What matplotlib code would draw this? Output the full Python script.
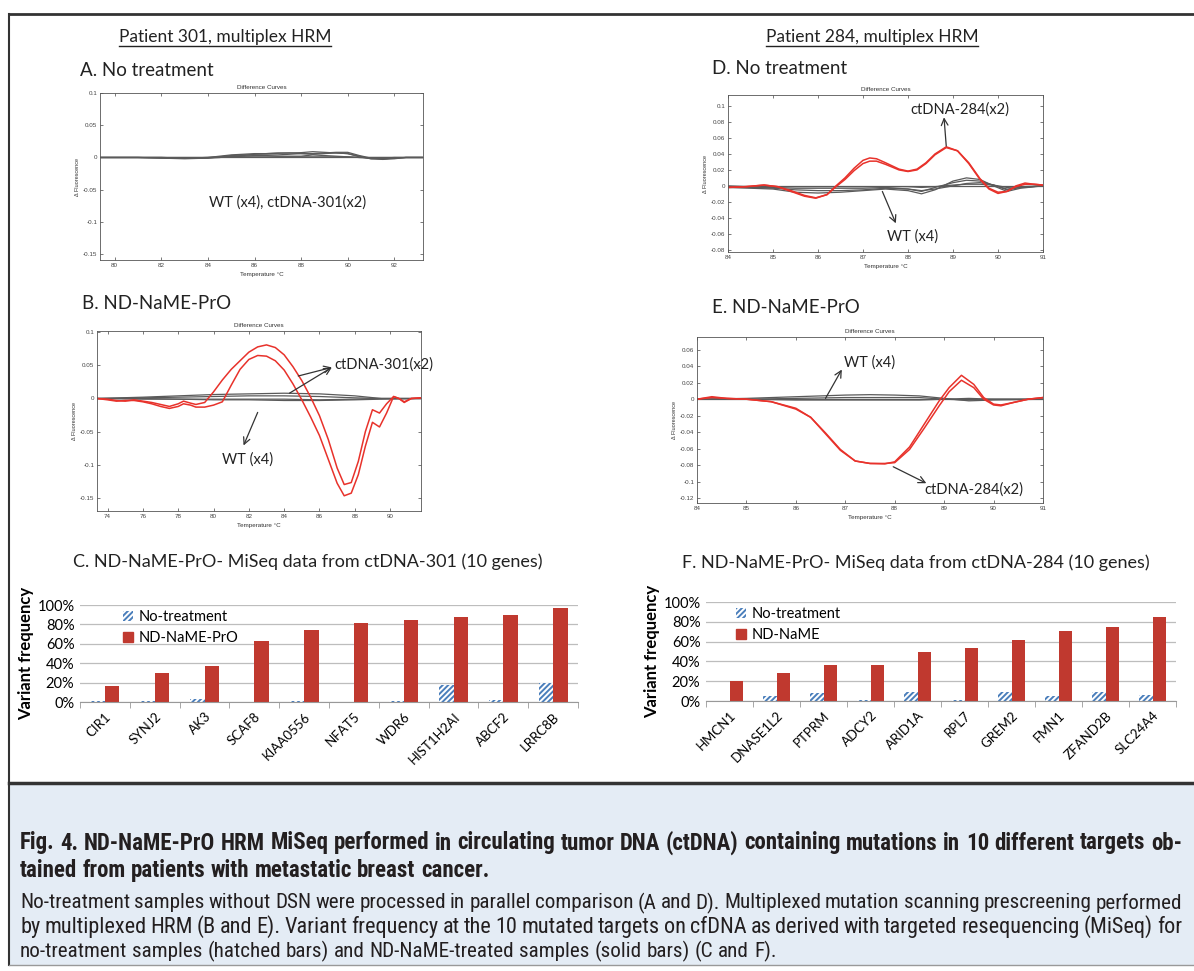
import numpy as np
import matplotlib
matplotlib.use('Agg')
import matplotlib.pyplot as plt
from matplotlib import font_manager
from matplotlib.patches import Rectangle, Patch
from matplotlib.lines import Line2D
from matplotlib.ticker import PercentFormatter

# ---- HRM difference curves ----
# Panel A: patient 301, no treatment (WT x4 + ctDNA x2, all grey)
a_temp = [79.4, 80, 81, 82, 83, 84, 84.5, 85, 85.5, 86, 86.5, 87, 87.5, 88,
          88.5, 89, 89.5, 90, 90.5, 91, 91.5, 92, 92.5, 93.2]
a_curves = [
    [0, 0, 0, 0, -0.001, 0, 0.002, 0.004, 0.005, 0.006, 0.006, 0.0065, 0.007, 0.0075,
     0.009, 0.008, 0.007, 0.006, 0.001, -0.002, -0.003, -0.002, 0, 0],
    [0, 0, 0, -0.001, -0.002, -0.001, 0.001, 0.003, 0.004, 0.004, 0.004, 0.004, 0.005, 0.006,
     0.006, 0.007, 0.008, 0.008, 0.003, -0.001, -0.002, -0.001, 0, 0],
    [0, 0, 0, 0, -0.001, 0, 0, 0.001, 0.002, 0.003, 0.003, 0.002, 0.002, 0.002,
     0.004, 0.003, 0.002, 0.001, 0, -0.001, -0.001, 0, 0, 0],
    [0, 0, 0, 0, 0, 0, 0.001, 0.001, 0.001, 0.001, 0.001, 0.001, 0.001, 0.001,
     0.001, 0.001, 0.001, 0.001, 0, 0, 0, 0, 0, 0],
    [0, 0, 0, -0.001, -0.001, -0.001, 0, 0.002, 0.003, 0.005, 0.006, 0.007, 0.007, 0.006,
     0.005, 0.006, 0.007, 0.006, 0.002, -0.002, -0.002, -0.001, 0, 0],
    [0, 0, 0, 0, 0, 0, 0, 0, 0, 0, 0, 0, 0, 0, 0, 0, 0, 0, 0, 0, 0, 0, 0, 0],
]

# Panel B: patient 301, ND-NaME-PrO
b_temp = [73.4, 74, 74.5, 75, 75.5, 76, 76.5, 77, 77.5, 78, 78.3, 78.7, 79, 79.5, 80,
          80.5, 81, 81.5, 82, 82.5, 83, 83.5, 84, 84.5, 85, 85.5, 86, 86.5, 87, 87.4,
          87.8, 88.2, 88.6, 89, 89.4, 89.8, 90.2, 90.5, 90.8, 91.2, 91.75]
b_ctdna = [
    [0, -0.001, -0.003, -0.004, -0.002, -0.004, -0.006, -0.009, -0.012, -0.008, -0.004,
     -0.007, -0.009, -0.006, 0.010, 0.028, 0.044, 0.057, 0.070, 0.078, 0.081, 0.077, 0.066,
     0.048, 0.027, 0.002, -0.026, -0.062, -0.105, -0.130, -0.127, -0.095, -0.050, -0.017,
     -0.022, -0.008, 0.003, 0.000, -0.005, 0.000, 0.001],
    [0, -0.002, -0.004, -0.003, -0.003, -0.005, -0.008, -0.012, -0.015, -0.012, -0.008,
     -0.010, -0.013, -0.013, -0.010, -0.005, 0.020, 0.044, 0.059, 0.065, 0.064, 0.057, 0.043,
     0.022, -0.002, -0.028, -0.056, -0.092, -0.128, -0.147, -0.143, -0.115, -0.072, -0.036,
     -0.043, -0.022, 0.003, 0.000, -0.006, 0.000, 0.001],
]
b_wt_temp = [73.4, 76, 78, 80, 82, 84, 86, 88, 89.5, 91.75]
b_wt = [
    [0, 0.002, 0.004, 0.006, 0.007, 0.008, 0.007, 0.004, 0.000, 0],
    [0, -0.001, -0.001, -0.002, -0.002, -0.003, -0.003, -0.002, -0.001, 0],
    [0, 0, -0.001, -0.001, -0.001, -0.001, -0.002, -0.001, 0, 0],
    [0, 0.001, 0.002, 0.003, 0.004, 0.004, 0.003, 0.001, 0, 0],
]

# Panel D: patient 284, no treatment
d_temp = [84.0, 84.4, 84.8, 85.1, 85.4, 85.7, 85.95, 86.2, 86.4, 86.6, 86.8, 87.0, 87.15,
          87.3, 87.5, 87.8, 88.0, 88.2, 88.4, 88.6, 88.85, 89.1, 89.35, 89.6, 89.8, 90.0,
          90.2, 90.4, 90.6, 90.8, 91.0]
d_ctdna = [
    [-0.002, -0.001, 0.001, -0.001, -0.007, -0.013, -0.0155, -0.011, 0.000, 0.010, 0.022,
     0.032, 0.035, 0.034, 0.029, 0.021, 0.0185, 0.021, 0.029, 0.040, 0.049, 0.044, 0.028,
     0.008, -0.004, -0.0095, -0.007, 0.000, 0.0035, 0.002, 0.001],
    [-0.002, -0.001, 0.001, -0.001, -0.006, -0.012, -0.015, -0.011, -0.001, 0.008, 0.019,
     0.028, 0.031, 0.031, 0.027, 0.020, 0.018, 0.020, 0.028, 0.039, 0.048, 0.044, 0.029,
     0.009, -0.003, -0.008, -0.007, -0.001, 0.002, 0.002, 0.001],
]
d_wt_temp = [84, 84.5, 85, 85.5, 86, 86.5, 87, 87.5, 88, 88.3, 88.6, 89, 89.3, 89.6, 89.9,
             90.2, 90.5, 91]
d_wt = [
    [-0.002, -0.003, -0.004, -0.008, -0.009, -0.008, -0.006, -0.004, -0.006, -0.010, -0.005,
     0.006, 0.010, 0.008, 0.000, -0.007, -0.003, 0],
    [-0.001, -0.002, -0.003, -0.005, -0.006, -0.006, -0.005, -0.003, -0.004, -0.007, -0.002,
     0.004, 0.007, 0.006, 0.001, -0.005, -0.002, 0],
    [-0.002, -0.002, -0.002, -0.003, -0.003, -0.003, -0.003, -0.002, -0.004, -0.006, -0.004,
     0.000, 0.003, 0.004, 0.001, -0.004, -0.002, 0],
    [0, -0.001, -0.001, -0.001, -0.001, -0.001, -0.001, -0.001, -0.001, -0.002, -0.001,
     0.001, 0.002, 0.002, 0.001, -0.002, -0.001, 0],
]

# Panel E: patient 284, ND-NaME-PrO
e_temp = [84.0, 84.3, 84.6, 85.0, 85.5, 86.0, 86.3, 86.6, 86.9, 87.2, 87.5, 87.8, 88.0,
          88.3, 88.6, 88.9, 89.1, 89.35, 89.6, 89.8, 90.0, 90.15, 90.4, 90.7, 91.0]
e_ctdna = [
    [0.000, 0.003, 0.001, 0.000, -0.003, -0.012, -0.022, -0.042, -0.062, -0.075, -0.078,
     -0.0785, -0.076, -0.058, -0.030, -0.002, 0.014, 0.029, 0.018, 0.002, -0.006, -0.007,
     -0.004, 0.000, 0.002],
    [0.000, 0.002, 0.001, 0.000, -0.003, -0.011, -0.022, -0.041, -0.061, -0.075, -0.078,
     -0.078, -0.077, -0.061, -0.035, -0.008, 0.009, 0.023, 0.014, 0.000, -0.007, -0.008,
     -0.004, 0.000, 0.002],
]
e_wt_temp = [84, 85, 86, 87, 87.5, 88, 88.5, 89, 89.5, 90, 91]
e_wt = [
    [0, 0.001, 0.003, 0.005, 0.0055, 0.005, 0.004, 0.001, -0.002, -0.001, 0],
    [0, 0, 0.001, 0.002, 0.002, 0.002, 0.002, 0, -0.001, 0, 0],
    [0, 0, 0, 0, 0, 0, 0, 0, 0, 0, 0],
    [0, 0, -0.001, -0.001, -0.001, -0.001, -0.001, 0, 0.001, 0, 0],
]

# ---- MiSeq variant frequencies (%) ----
genes_c = ['CIR1', 'SYNJ2', 'AK3', 'SCAF8', 'KIAA0556', 'NFAT5', 'WDR6', 'HIST1H2AI',
           'ABCF2', 'LRRC8B']
c_no_treat = [1.2, 1.2, 2.6, 0.5, 1.2, 0.5, 1.5, 18, 2.3, 20]
c_treated = [16, 30, 37, 62.5, 74, 81.5, 84.5, 88, 90, 97]

genes_f = ['HMCN1', 'DNASE1L2', 'PTPRM', 'ADCY2', 'ARID1A', 'RPL7', 'GREM2', 'FMN1',
           'ZFAND2B', 'SLC24A4']
f_no_treat = [0.5, 5, 7.7, 1, 8.6, 1, 9.5, 4.6, 9.5, 6]
f_treated = [20, 28.5, 36, 36.5, 50, 53.5, 61.5, 71, 75, 85]

caption_bold = [
    'Fig. 4.  ND-NaME-PrO HRM MiSeq performed in circulating tumor DNA (ctDNA) containing '
    'mutations in 10 different targets ob-',
    'tained from patients with metastatic breast cancer.',
]
caption_body = [
    'No-treatment samples without DSN were processed in parallel comparison (A and D). '
    'Multiplexed mutation scanning prescreening performed',
    'by multiplexed HRM (B and E). Variant frequency at the 10 mutated targets on cfDNA as '
    'derived with targeted resequencing (MiSeq) for',
    'no-treatment samples (hatched bars) and ND-NaME-treated samples (solid bars) (C and F).',
]

W, H = 1194, 971
RED = '#e8322b'
GREY = '#5a5a5a'
BAR_RED = '#c0392f'
BAR_BLUE = '#4a7ebb'
HEAD_FONT = 'Lato'
SMALL_FONT = 'Liberation Sans'


def pick_condensed():
    # the caption uses a condensed face; take whatever condensed family is installed
    fonts = font_manager.fontManager.ttflist
    squeezed = ('condensed', 'semi-condensed', 'extra-condensed', 'ultra-condensed')
    for name in ['Roboto Condensed', 'Liberation Sans Narrow', 'Open Sans Condensed',
                 'Noto Sans Condensed']:
        if any(f.name == name for f in fonts):
            return {'family': name}
    for name in ['Noto Sans', 'Roboto', 'Open Sans', 'DejaVu Sans', 'Liberation Sans']:
        st = [f.stretch for f in fonts if f.name == name and f.stretch in squeezed]
        if st:
            return {'family': name, 'stretch': st[0]}
    for f in fonts:
        if 'Condensed' in f.name or 'Narrow' in f.name:
            return {'family': f.name}
    return {'family': 'Liberation Sans'}


CAP = pick_condensed()

plt.rcParams['hatch.linewidth'] = 1.4
fig = plt.figure(figsize=(W / 100, H / 100), dpi=100)


def axes_px(x0, y0, x1, y1):
    return fig.add_axes([x0 / W, 1 - y1 / H, (x1 - x0) / W, (y1 - y0) / H])


def ftext(x, y, s, **kw):
    return fig.text(x / W, 1 - y / H, s, **kw)


def style_hrm(ax, xlim, ylim, xticks, yticks, ylabels):
    ax.set_xlim(xlim)
    ax.set_ylim(ylim)
    ax.set_xticks(xticks)
    ax.set_xticklabels([str(t) for t in xticks], fontfamily=SMALL_FONT)
    ax.set_yticks(yticks)
    ax.set_yticklabels(ylabels, fontfamily=SMALL_FONT)
    ax.tick_params(direction='in', length=2.5, width=0.5, labelsize=4.5, top=True,
                   right=True, colors='#444', pad=2)
    for s in ax.spines.values():
        s.set_linewidth(0.6)
        s.set_color('#555')
    ax.set_title('Difference Curves', fontsize=4.5, pad=3, color='#333', family=SMALL_FONT)
    ax.set_xlabel('Temperature \u00b0C', fontsize=4.5, labelpad=3, color='#333',
                  family=SMALL_FONT)
    ax.set_ylabel('\u0394 Fluorescence', fontsize=4, labelpad=2, color='#333',
                  family=SMALL_FONT)


def arrow(ax, tail, head):
    ax.annotate('', xy=head, xytext=tail,
                arrowprops=dict(arrowstyle='->', color='#333', lw=0.9,
                                shrinkA=0, shrinkB=0, mutation_scale=12))


def note(ax, x, y, s):
    ax.text(x, y, s, fontsize=10.5, family=HEAD_FONT, ha='center', va='center', color='#222')


# Panel A
ax = axes_px(100, 93, 423, 260)
for c in a_curves:
    ax.plot(a_temp, c, color=GREY, lw=0.9)
style_hrm(ax, (79.37, 93.23), (-0.159, 0.1), list(range(80, 93, 2)),
          [0.1, 0.05, 0, -0.05, -0.1, -0.15], ['0.1', '0.05', '0', '-0.05', '-0.1', '-0.15'])
note(ax, 87.4, -0.07, 'WT (x4), ctDNA-301(x2)')

# Panel B
ax = axes_px(97, 331, 421, 511)
for c in b_wt:
    ax.plot(b_wt_temp, c, color=GREY, lw=0.9)
for c in b_ctdna:
    ax.plot(b_temp, c, color=RED, lw=1.1)
style_hrm(ax, (73.4, 91.75), (-0.17, 0.102), list(range(74, 91, 2)),
          [0.1, 0.05, 0, -0.05, -0.1, -0.15], ['0.1', '0.05', '0', '-0.05', '-0.1', '-0.15'])
arrow(ax, (84.8, 0.034), (86.7, 0.047))
arrow(ax, (84.3, 0.008), (86.7, 0.047))
ax.text(86.85, 0.052, 'ctDNA-301(x2)', fontsize=10.5, family=HEAD_FONT, va='center',
        color='#222')
arrow(ax, (82.5, -0.021), (81.7, -0.071))
note(ax, 81.9, -0.092, 'WT (x4)')

# Panel D
ax = axes_px(728, 95, 1043, 252)
for c in d_wt:
    ax.plot(d_wt_temp, c, color=GREY, lw=0.9)
ax.axhline(0, color=GREY, lw=0.9)
for c in d_ctdna:
    ax.plot(d_temp, c, color=RED, lw=1.1)
style_hrm(ax, (84, 91), (-0.083, 0.114), list(range(84, 92)),
          [0.1, 0.08, 0.06, 0.04, 0.02, 0, -0.02, -0.04, -0.06, -0.08],
          ['0.1', '0.08', '0.06', '0.04', '0.02', '0', '-0.02', '-0.04', '-0.06', '-0.08'])
arrow(ax, (88.85, 0.050), (88.8, 0.086))
note(ax, 89.15, 0.096, 'ctDNA-284(x2)')
arrow(ax, (87.43, -0.007), (87.73, -0.047))
note(ax, 88.1, -0.063, 'WT (x4)')

# Panel E
ax = axes_px(697, 337, 1043, 503)
for c in e_wt:
    ax.plot(e_wt_temp, c, color=GREY, lw=0.9)
for c in e_ctdna:
    ax.plot(e_temp, c, color=RED, lw=1.1)
style_hrm(ax, (84, 91), (-0.126, 0.0755), list(range(84, 92)),
          [0.06, 0.04, 0.02, 0, -0.02, -0.04, -0.06, -0.08, -0.1, -0.12],
          ['0.06', '0.04', '0.02', '0', '-0.02', '-0.04', '-0.06', '-0.08', '-0.1', '-0.12'])
arrow(ax, (86.6, 0.001), (86.93, 0.036))
note(ax, 87.5, 0.044, 'WT (x4)')
arrow(ax, (87.97, -0.082), (88.64, -0.102))
note(ax, 89.6, -0.110, 'ctDNA-284(x2)')


# Bar panels C and F
def bar_panel(ax, genes, no_treat, treated, treat_label, leg_x):
    x = np.arange(len(genes))
    w = 0.29
    ax.bar(x - w / 2, no_treat, w, facecolor='white', edgecolor=BAR_BLUE, hatch='//////',
           lw=0, label='No-treatment')
    ax.bar(x + w / 2, treated, w, color=BAR_RED, label=treat_label)
    ax.set_xlim(-0.5, len(genes) - 0.5)
    ax.set_ylim(0, 100)
    ax.set_yticks(range(0, 101, 20))
    ax.yaxis.set_major_formatter(PercentFormatter(100, decimals=0))
    ax.yaxis.grid(True, color='#bdbdbd', lw=0.9)
    ax.set_axisbelow(True)
    for s in ['left', 'right', 'top']:
        ax.spines[s].set_visible(False)
    ax.spines['bottom'].set_color('#999')
    ax.set_xticks(x)
    ax.set_xticklabels(genes, rotation=45, ha='right', rotation_mode='anchor', fontsize=9.5,
                       family=HEAD_FONT)
    ax.set_xticks(np.arange(-0.5, len(genes), 1), minor=True)
    ax.tick_params(axis='x', which='major', length=0, pad=6)
    ax.tick_params(axis='x', which='minor', length=4, color='#999')
    ax.tick_params(axis='y', length=0, labelsize=10.5, pad=4)
    for t in ax.get_yticklabels():
        t.set_family(HEAD_FONT)
    ax.set_ylabel('Variant frequency', fontsize=12, fontweight='bold', family=HEAD_FONT,
                  labelpad=2)
    handles = [Patch(facecolor='white', edgecolor=BAR_BLUE, hatch='//////', lw=0),
               Patch(color=BAR_RED)]
    ax.legend(handles, ['No-treatment', treat_label], loc='upper left',
              bbox_to_anchor=(leg_x, 1.08), frameon=False, prop={'family': HEAD_FONT, 'size': 10.5},
              handlelength=0.7, handleheight=0.7, handletextpad=0.4, labelspacing=0.45)


ax = axes_px(80, 605, 578, 702)
bar_panel(ax, genes_c, c_no_treat, c_treated, 'ND-NaME-PrO', 0.06)
ax = axes_px(706, 602, 1176, 701)
bar_panel(ax, genes_f, f_no_treat, f_treated, 'ND-NaME', 0.035)

# headings
head = dict(family=HEAD_FONT, color='#222', va='center')
h1 = ftext(225, 37, 'Patient 301, multiplex HRM', ha='center', fontsize=12.5, **head)
h2 = ftext(872, 37, 'Patient 284, multiplex HRM', ha='center', fontsize=12.5, **head)
ftext(80, 70, 'A. No treatment', fontsize=13.5, **head)
ftext(712, 68, 'D. No treatment', fontsize=13.5, **head)
ftext(82, 303, 'B. ND-NaME-PrO', fontsize=13.5, **head)
ftext(712, 307, 'E. ND-NaME-PrO', fontsize=13.5, **head)
ftext(73, 562, 'C. ND-NaME-PrO- MiSeq data from ctDNA-301 (10 genes)', fontsize=13, **head)
ftext(682, 563, 'F. ND-NaME-PrO- MiSeq data from ctDNA-284 (10 genes)', fontsize=13, **head)

fig.canvas.draw()
renderer = fig.canvas.get_renderer()
for h in (h1, h2):
    bb = h.get_window_extent(renderer)
    yline = bb.y0 - 1.5
    fig.add_artist(Line2D([bb.x0 / W, bb.x1 / W], [yline / H, yline / H], color='#222', lw=1.0))

# frame and caption box
fig.add_artist(Line2D([9 / W, 1], [1 - 14 / H, 1 - 14 / H], color='#333', lw=2))
fig.add_artist(Line2D([9 / W, 9 / W], [1 - 14 / H, 1 - 965 / H], color='#333', lw=1.5))
fig.add_artist(Rectangle((9 / W, 1 - 965 / H), 1 - 9 / W, 181 / H, transform=fig.transFigure,
                         facecolor='#e4ecf5', edgecolor='none', zorder=0))
fig.add_artist(Line2D([9 / W, 1], [1 - 783 / H, 1 - 783 / H], color='#333', lw=2.5))
fig.add_artist(Line2D([9 / W, 1], [1 - 965 / H, 1 - 965 / H], color='#999', lw=1))


def cap_line(y, line, x0, x1, weight, size, justify=True):
    words = line.split()
    while True:
        texts = [ftext(0, y, w, fontsize=size, fontweight=weight, color='#231f20',
                       va='center', **CAP) for w in words]
        widths = [t.get_window_extent(renderer).width for t in texts]
        gap = (x1 - x0 - sum(widths)) / (len(words) - 1)
        if gap >= 3.5 or size < 6:
            break
        for t in texts:
            t.remove()
        size -= 0.25
    if not justify:
        space = ftext(0, y, 'a b', fontsize=size, fontweight=weight, **CAP)
        ab = ftext(0, y, 'ab', fontsize=size, fontweight=weight, **CAP)
        gap = space.get_window_extent(renderer).width - ab.get_window_extent(renderer).width
        space.remove()
        ab.remove()
    x = x0
    for t, w in zip(texts, widths):
        t.set_x(x / W)
        x += w + gap
    return size


bold_size = cap_line(843, caption_bold[0], 20, 1182, 'bold', 16.5)
cap_line(870, caption_bold[1], 20, 1182, 'bold', bold_size, justify=False)
body_size = cap_line(903, caption_body[0], 20, 1182, 'normal', 16)
body_size = min(body_size, cap_line(927, caption_body[1], 20, 1182, 'normal', 16))
cap_line(951, caption_body[2], 20, 1182, 'normal', body_size, justify=False)

fig.savefig('out.png', dpi=100)
